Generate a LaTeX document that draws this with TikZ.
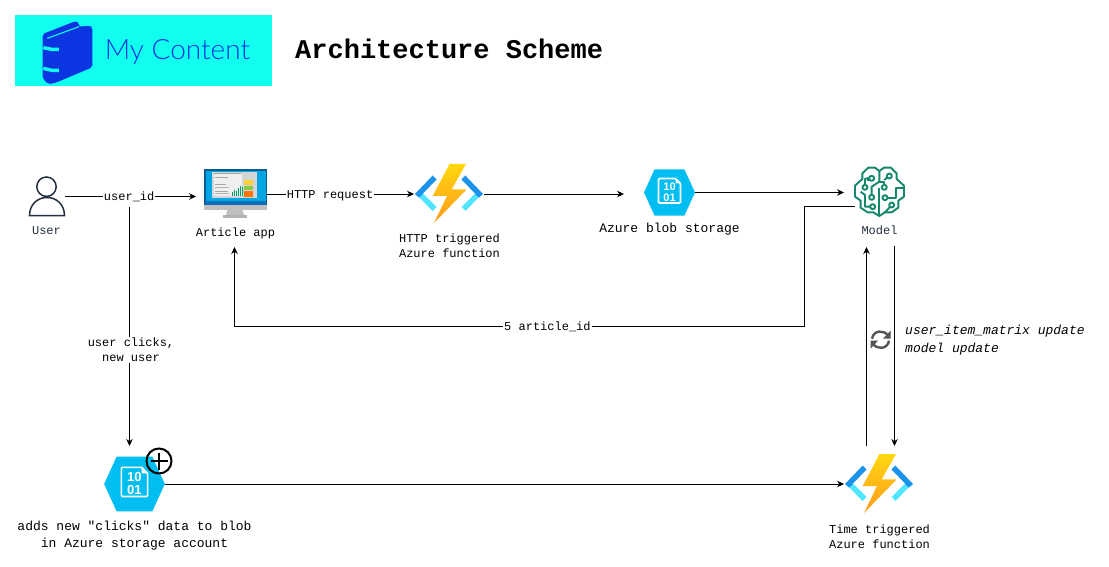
\documentclass[tikz,border=0pt]{standalone}
\usepackage{fontspec}
\setmainfont{Liberation Sans}
\newfontfamily\monof{Liberation Mono}
\newfontfamily\logof{Lato Light}
\usetikzlibrary{arrows.meta,calc}
\definecolor{hexblue}{HTML}{00BEF2}
\definecolor{logocyan}{HTML}{12FFF0}
\definecolor{bookblue}{HTML}{0A35E0}
\definecolor{inkdark}{HTML}{232F3E}
\definecolor{brain}{HTML}{12876B}
\definecolor{chevdark}{HTML}{1B93EB}
\definecolor{chevlight}{HTML}{50E6FF}
\definecolor{boltA}{HTML}{FFD70F}
\definecolor{boltB}{HTML}{FE9A1E}
\definecolor{monframe}{HTML}{0A5C8F}
\definecolor{monscreen}{HTML}{01A5E4}
\definecolor{monband}{HTML}{0D6FB8}
\definecolor{monpanel}{HTML}{D3D6D8}
\definecolor{mondoc}{HTML}{EFEFEF}
\tikzset{
  box/.style={inner sep=0pt,outer sep=0pt,minimum width=#1},
  lab/.style={font=\monof\fontsize{12}{15}\selectfont,align=center,inner sep=0pt,text=black},
  labm/.style={font=\monof\fontsize{13}{17}\selectfont,align=center,inner sep=0pt,text=black},
  edgelab/.style={lab,fill=white,inner sep=1pt},
  conn/.style={draw=black,line width=0.9pt,-{Stealth[length=7pt,width=6.5pt]}},
  funcicon/.pic={
    \foreach \s in {1,-1}{
      \begin{scope}[xscale=\s]
      \fill[chevlight] (-30,3) -- (-26,-0.5) -- (-12.5,13) -- (-16.5,17) -- cycle;
      \fill[chevdark] (-34,0) -- (-16.3,-18.5) -- (-12.5,-14.5) -- (-26.5,0) -- cycle;
      \fill[chevdark] (-34,0) -- (-30,3.6) -- (-26,0) -- cycle;
      \end{scope}
    }
    \shade[top color=boltA,bottom color=boltB] (0.5,-30) -- (17,-30) -- (2.7,-4.7) -- (17.7,-4.7) -- (-15,29) -- (-2,2) -- (-16.3,2) -- cycle;
  },
  hexicon/.pic={
    \fill[hexblue] (-25.5,0) -- (-15,-23) -- (15,-23) -- (25.5,0) -- (15,23) -- (-15,23) -- cycle;
    \draw[white,line width=1.6pt,rounded corners=1pt] (-11,-14) -- (6,-14) -- (11,-9) -- (11,10.5) -- (-11,10.5) -- cycle;
    \fill[white] (6,-14.5) -- (11.5,-9) -- (6,-9) -- cycle;
    \node[transform shape,text=white,inner sep=0pt,font=\bfseries\fontsize{11}{11}\selectfont] at (0,-5.5) {10};
    \node[transform shape,text=white,inner sep=0pt,font=\bfseries\fontsize{11}{11}\selectfont] at (0,5.3) {01};
  }
}
\begin{document}
\begin{tikzpicture}[x=1pt,y=-1pt]
\useasboundingbox (0,0) rectangle (1109,567);
\fill[white] (0,0) rectangle (1109,567);

% logo
\fill[logocyan] (15,15) rectangle (272,86);
\begin{scope}[shift={(30,10)},x=0.3333pt,y=-0.3333pt]
  \fill[bookblue,rounded corners=2pt] (38,72) -- (138,33) -- (147,38) -- (147,50) -- (180,47) -- (187,52) -- (187,172) -- (78,218) -- (55,223) -- (38,205) -- cycle;
  \draw[logocyan,line width=1.1pt] (52,85) -- (147,50);
  \draw[logocyan,line width=3.4pt] (40,113) -- (65,118) -- (87,118);
  \draw[logocyan,line width=3.4pt] (40,175) -- (65,181) -- (87,181);
\end{scope}
\node[inner sep=0pt,text=bookblue,font=\logof\fontsize{28}{28}\selectfont,anchor=base] (logotext) at (177.5,59.5) {My Content};
\node[anchor=west,inner sep=0pt,font=\monof\bfseries\fontsize{27}{27}\selectfont] (title) at (295,49) {Architecture Scheme};

% user icon
\node[box=36pt,minimum height=39pt] (user) at (47,196.5) {};
\draw[inkdark,line width=1.5pt] (46.5,186.7) circle (9.7);
\draw[inkdark,line width=1.5pt] (29.5,215.5) .. controls (29.5,205) and (37,197.5) .. (47,197.5) .. controls (57,197.5) and (64.5,205) .. (64.5,215.5) -- cycle;
\node[lab,text=inkdark] (userlab) at (46.5,230.5) {User};

% article app
\node[box=71pt,minimum height=50pt] (app) at (231.5,194) {};
\fill[black!25] (228,208) -- (242,208) -- (244,215) -- (226,215) -- cycle;
\fill[black!30] (223,215) -- (247,215) -- (247,217.5) -- (223,217.5) -- cycle;
\fill[black!25] (204,205) rectangle (267,209.5);
\fill[monframe] (204,169.5) rectangle (267,205);
\fill[monscreen] (205.5,171) rectangle (265.5,201);
\fill[monband] (205,201) rectangle (266,205);
\fill[monpanel] (212,172) rectangle (256.7,197.7);
\fill[mondoc] (213.5,174.5) rectangle (242,196.5);
\fill[black!35] (214,173) rectangle (241,174);
\fill[black!35] (215,177) rectangle (228,178);
\fill[black!35] (215,184) rectangle (226,185);
\fill[black!30] (215,187) rectangle (229,187.8);
\fill[black!35] (215,191) rectangle (228,192);
\fill[black!30] (215,193.5) rectangle (229,194.3);
\fill[yellow!60!orange!80!white] (244,179.7) rectangle (253.3,185);
\fill[green!50!yellow!70!black!70!white] (244,185.7) rectangle (253.3,190.4);
\fill[orange!90!red] (244,191) rectangle (253.3,197);
\foreach \bx/\by in {232/192,234/190,236/191,238/188,240/186,242/187}{
  \fill[teal!80!green] (\bx,\by) rectangle ++(1.3,{195.7-\by});
}
\node[lab] (applab) at (235.5,233) {Article app};

% function 1
\node[box=70pt,minimum height=76pt] (func) at (449,194) {};
\pic at (449,194) {funcicon};
\node[lab] (funclab) at (449.5,246) {HTTP triggered\\Azure function};

% blob
\node[box=71pt,minimum height=46pt] (blob) at (659.5,192.5) {};
\pic at (669.5,192.5) {hexicon};
\node[labm] (bloblab) at (669.5,229) {Azure blob storage};

% model
\node[box=60pt,minimum height=47pt] (model) at (874,192.5) {};
\begin{scope}[shift={(630,155)},x=0.3333pt,y=-0.3333pt]
  \tikzset{brl/.style={brain,line width=1.9pt,line join=round}}
  \draw[brl] (748,48) -- (735,38) -- (715,38) -- (697,55) -- (697,72) -- (675,92) -- (675,125) -- (692,137) -- (692,158) -- (713,172) -- (730,172) -- (748,183) -- (765,172) -- (785,172) -- (805,158) -- (805,137) -- (822,125) -- (822,92) -- (800,72) -- (800,55) -- (783,38) -- (762,38) -- cycle;
  \draw[brl] (748,48) -- (748,80) -- (725,95) -- (725,120);
  \draw[brl] (725,76) -- (712,76);
  \draw[brl] (705,90) -- (705,72) -- (718,68);
  \draw[brl] (748,80) -- (763,80) -- (763,90);
  \draw[brl] (763,75) -- (772,67);
  \draw[brl] (772,128) -- (798,128) -- (798,100) -- (822,100);
  \draw[brl] (748,100) -- (748,183);
  \draw[brl] (720,155) -- (705,155) -- (705,120) -- (692,110);
  \draw[brl] (780,156) -- (765,172);
  \foreach \cx/\cy in {725/70,705/97,725/127,728/155,778/63,763/97,765/128,785/150}{
    \draw[brl,fill=white] (\cx,\cy) circle (7.5);
  }
\end{scope}
\node[lab,text=inkdark] (modellab) at (879.5,230.5) {Model};

% blob 2
\node[box=60pt,minimum height=76pt] (blobb) at (134.5,484) {};
\pic[scale=1.19] at (134.5,484) {hexicon};
\node[labm] (blobblab) at (134.5,536) {adds new "clicks" data to blob\\in Azure storage account};
\node[draw=black,line width=2pt,circle,minimum size=25pt,inner sep=0pt] (plus) at (159,461) {};
\draw[black,line width=2pt] (150.5,461) -- (167.5,461) (159,452.5) -- (159,469.5);

% function 2
\node[box=70pt,minimum height=76pt] (funcb) at (879,484) {};
\pic at (879,484) {funcicon};
\node[lab] (funcblab) at (879.5,536.5) {Time triggered\\Azure function};

% refresh
\begin{scope}[shift={(880.5,339.7)}]
\foreach \r in {0,180}{
  \begin{scope}[rotate=\r]
  \draw[black!67,line width=2.4pt] (-8.5,-1) .. controls (-7,-10) and (4,-10) .. (7.5,-4);
  \fill[black!67] (10,-9) -- (10,-1) -- (2.5,-1) -- cycle;
  \end{scope}
}
\end{scope}
\node[anchor=west,font=\monof\itshape\fontsize{13}{18}\selectfont,align=left,inner sep=0pt] (note) at (905,340) {user\_item\_matrix update\\model update};

% free ends
\coordinate (clickstart) at (129.5,207);
\coordinate (modelout) at (855,206.5);
\coordinate (fbk) at (804.5,326.5);
\coordinate (apptip) at (234.5,247);
\coordinate (uptop) at (866.5,247);
\coordinate (downtop) at (894.5,246);

% connectors
\draw[conn] (user.east) -- node[edgelab,pos=0.49] (luser) {user\_id} (app.west |- user.east);
\draw[conn] (clickstart) -- node[edgelab,pos=0.598,xshift=1.5pt] (lclicks) {user clicks,\\new user} (clickstart |- blobb.north);
\draw[conn] (app.east) -- node[edgelab,pos=0.4286,yshift=-1.5pt] (lhttp) {HTTP request} (func.west);
\draw[conn] (func.east) -- (func.east -| blob.west);
\draw[conn] (blob.east) -- (model.west);
\draw[conn] (modelout) -- (modelout -| fbk) -- (fbk) -- node[edgelab,pos=0.451] (lart) {5 article\_id} (fbk -| apptip) -- (apptip);
\draw[conn] (uptop |- funcb.north) -- (uptop);
\draw[conn] (downtop) -- (downtop |- funcb.north);
\draw[conn] (blobb.east) -- (funcb.west);
\end{tikzpicture}
\end{document}
